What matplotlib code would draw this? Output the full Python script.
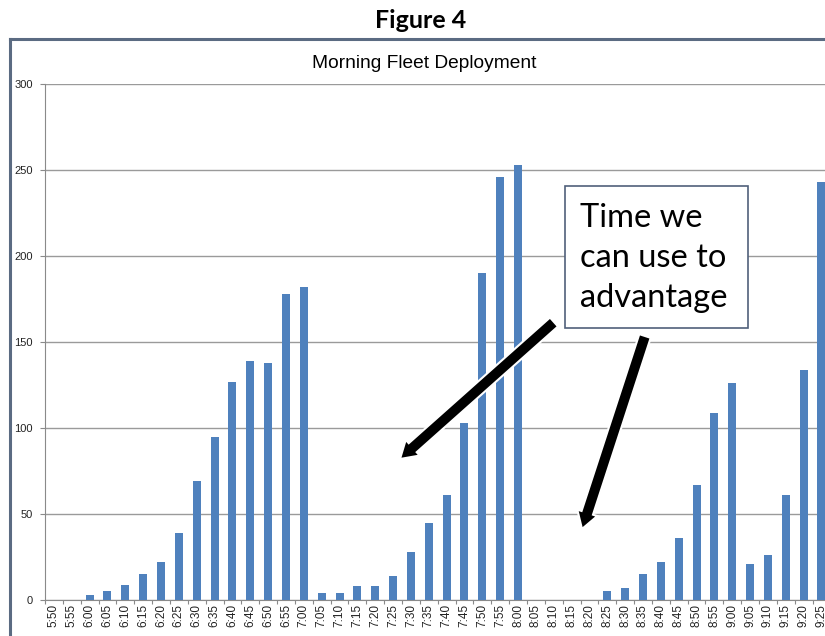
import matplotlib
matplotlib.use("Agg")
import matplotlib.pyplot as plt
from matplotlib.lines import Line2D
from matplotlib.patches import Rectangle, FancyArrow
from matplotlib import font_manager

times = ["5:50", "5:55", "6:00", "6:05", "6:10", "6:15", "6:20", "6:25", "6:30", "6:35",
         "6:40", "6:45", "6:50", "6:55", "7:00", "7:05", "7:10", "7:15", "7:20", "7:25",
         "7:30", "7:35", "7:40", "7:45", "7:50", "7:55", "8:00", "8:05", "8:10", "8:15",
         "8:20", "8:25", "8:30", "8:35", "8:40", "8:45", "8:50", "8:55", "9:00", "9:05",
         "9:10", "9:15", "9:20", "9:25"]
vehicles = [0, 0, 3, 5, 9, 15, 22, 39, 69, 95,
            127, 139, 138, 178, 182, 4, 4, 8, 8, 14,
            28, 45, 61, 103, 190, 246, 253, 0, 0, 0,
            0, 5, 7, 15, 22, 36, 67, 109, 126, 21,
            26, 61, 134, 243]
y_ticks = [0, 50, 100, 150, 200, 250, 300]
chart_title = "Morning Fleet Deployment"
fig_title = "Figure 4"
callout = "Time we\ncan use to\nadvantage"

names = {f.name for f in font_manager.fontManager.ttflist}
narrow = "Liberation Sans Narrow" if "Liberation Sans Narrow" in names else "Liberation Sans"
cal = "Lato" if "Lato" in names else "DejaVu Sans"

W, H = 825, 636
fig = plt.figure(figsize=(W / 100, H / 100), dpi=100)

def fx(px):
    return px / W

def fy(py):
    return 1 - py / H

slot = 17.85
n = len(times)
ax_left, ax_top, ax_bottom = 45, 84, 600
ax = fig.add_axes([fx(ax_left), fy(ax_bottom), fx(slot * n), (ax_bottom - ax_top) / H])
x = list(range(n))
ax.bar(x, vehicles, width=0.45, color="#4F81BD", zorder=3)
ax.set_xlim(-0.5, n - 0.5)
ax.set_ylim(0, 300)
ax.set_yticks(y_ticks)
ax.set_yticklabels([str(v) for v in y_ticks], fontsize=8, family=narrow, color="#222222")
ax.yaxis.grid(True, color="#9a9a9a", linewidth=1.0, zorder=0)
ax.set_xticks(x)
ax.set_xticklabels(times, rotation=90, fontsize=8.5, family=narrow, color="#222222")
ax.set_xticks([i + 0.5 for i in range(-1, n)], minor=True)
ax.tick_params(axis="x", which="major", length=0, pad=3)
ax.tick_params(axis="x", which="minor", length=3, color="#8a8a8a", width=0.8)
ax.tick_params(axis="y", length=3.6, color="#8a8a8a", width=0.8, pad=5)
for s in ["top", "right"]:
    ax.spines[s].set_visible(False)
ax.spines["left"].set_color("#8a8a8a")
ax.spines["bottom"].set_color("#8a8a8a")
ax.set_facecolor("none")

# outer chart frame
fig.add_artist(Line2D([fx(10), fx(10)], [fy(39), fy(640)], color="#5b6b82", linewidth=2.2,
                      transform=fig.transFigure))
fig.add_artist(Line2D([fx(10), fx(830)], [fy(39), fy(39)], color="#5b6b82", linewidth=2.2,
                      transform=fig.transFigure))

fig.text(fx(421), fy(21), fig_title, ha="center", va="center", fontsize=18,
         fontweight="bold", family=cal)
fig.text(fx(424), fy(63), chart_title, ha="center", va="center", fontsize=13.8, family=narrow)

# callout box
fig.add_artist(Rectangle((fx(565), fy(328)), fx(748 - 565), (328 - 186) / H,
                         transform=fig.transFigure, facecolor="white",
                         edgecolor="#50607a", linewidth=1.2, zorder=5))
fig.text(fx(580), fy(258), callout, ha="left", va="center", fontsize=23.5,
         family=cal, linespacing=1.42, zorder=6)

def arrow(x0, y0, x1, y1):
    # coordinates in pixels, drawn in inches for uniform scaling
    fig.add_artist(FancyArrow(x0 / 100, (H - y0) / 100, (x1 - x0) / 100, (y0 - y1) / 100,
                              width=0.12, head_width=0.21, head_length=0.17,
                              length_includes_head=True, transform=fig.dpi_scale_trans,
                              facecolor="black", edgecolor="white", linewidth=1.5, zorder=7))

arrow(554, 322, 400, 459)
arrow(645, 336, 582, 529)

fig.savefig("out.png", dpi=100)
